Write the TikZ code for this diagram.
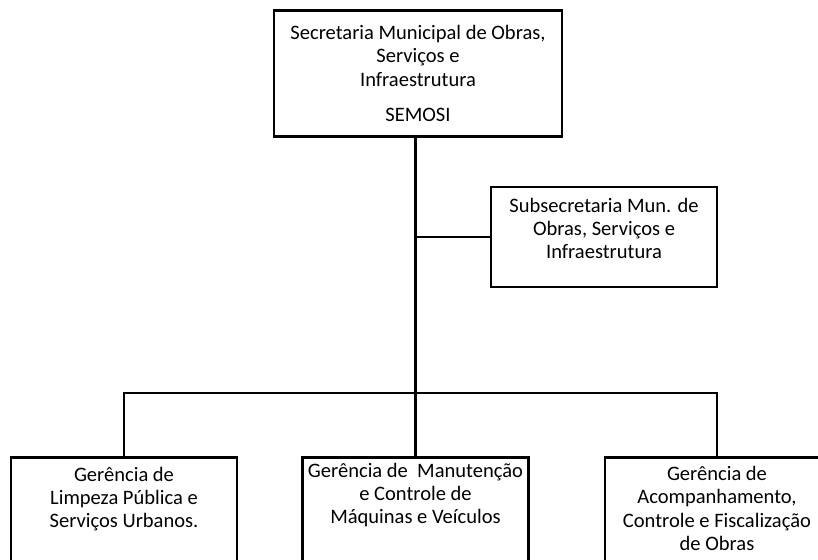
\documentclass[tikz,border=0pt]{standalone}
\usepackage{fontspec}
\setmainfont{Carlito}
\begin{document}
\begin{tikzpicture}[x=0.75pt, y=-0.75pt, line width=2.2pt,
  org box/.style={draw, rectangle, inner sep=0pt},
  box text/.style={align=center, inner sep=0pt, font=\fontsize{15.4}{17.4}\selectfont}]
\useasboundingbox (0,0) rectangle (818,560);
% boxes
\node [org box, box text, minimum width=216pt, minimum height=95pt] (semosi) at (418,73.5) {Secretaria Municipal de Obras,\\ Serviços e\\ Infraestrutura\\[9pt] SEMOSI};
\node [org box, minimum width=169.5pt, minimum height=75pt] (sub) at (604,237) {};
\node [org box, minimum width=169.5pt, minimum height=88pt] (limpeza) at (124,516.5) {};
\node [org box, minimum width=169pt, minimum height=88pt] (manut) at (415.5,516.5) {};
\node [org box, minimum width=168pt, minimum height=88pt] (fisc) at (717,516.5) {};
% texts
\node [box text] (sub text) at ([yshift=6.4pt]sub.center) {Subsecretaria Mun. de\\ Obras, Serviços e\\ Infraestrutura};
\node [box text, anchor=north] (limpeza text) at ([yshift=-7pt]limpeza.north) {Gerência de\\ Limpeza Pública e\\ Serviços Urbanos.};
\node [box text, anchor=north] (manut text) at ([yshift=-4pt]manut.north) {Gerência de~ Manutenção\\ e Controle de\\ Máquinas e Veículos};
\node [box text, anchor=north] (fisc text) at ([yshift=-6.5pt]fisc.north) {Gerência de\\ Acompanhamento,\\ Controle e Fiscalização\\ de Obras};
% connectors
\coordinate (bus) at (416,393);
\draw (semosi.south -| manut.north) -- (manut.north);
\draw (sub.west) -- (sub.west -| manut.north);
\draw (limpeza.north) |- (bus) -| (fisc.north);
\end{tikzpicture}
\end{document}
